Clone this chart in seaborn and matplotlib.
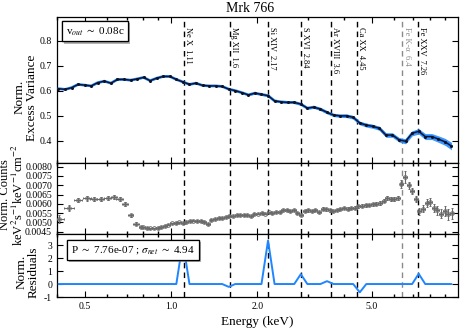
import numpy as np
import pandas as pd
import matplotlib
matplotlib.use("Agg")
import matplotlib.pyplot as plt
import matplotlib.transforms as mtransforms
from matplotlib import patheffects
from matplotlib.ticker import FixedLocator, NullFormatter, FormatStrFormatter, LogLocator
import seaborn as sns

# ---------------- data ----------------
var_energy = [0.405, 0.427, 0.450, 0.474, 0.500, 0.527, 0.555, 0.585, 0.617, 0.650,
              0.685, 0.722, 0.761, 0.802, 0.845, 0.891, 0.939, 0.990, 1.043, 1.099,
              1.159, 1.221, 1.287, 1.357, 1.430, 1.507, 1.589, 1.674, 1.765, 1.860,
              1.960, 2.066, 2.178, 2.295, 2.419, 2.550, 2.688, 2.833, 2.986, 3.147,
              3.317, 3.496, 3.685, 3.884, 4.094, 4.315, 4.548, 4.793, 5.052, 5.325,
              5.612, 5.915, 6.235, 6.571, 6.926, 7.300, 7.694, 8.110, 8.548, 9.009,
              9.496]
var_value = [0.608, 0.605, 0.612, 0.625, 0.622, 0.619, 0.632, 0.638, 0.630, 0.645,
             0.645, 0.642, 0.647, 0.653, 0.640, 0.650, 0.657, 0.657, 0.645, 0.635,
             0.625, 0.630, 0.621, 0.619, 0.619, 0.617, 0.606, 0.600, 0.592, 0.583,
             0.590, 0.585, 0.580, 0.559, 0.555, 0.553, 0.553, 0.546, 0.530, 0.534,
             0.526, 0.513, 0.502, 0.499, 0.499, 0.493, 0.470, 0.462, 0.457, 0.449,
             0.422, 0.422, 0.403, 0.397, 0.429, 0.437, 0.416, 0.416, 0.406, 0.395,
             0.378]
var_err = [0.002, 0.002, 0.002, 0.002, 0.002, 0.002, 0.002, 0.002, 0.002, 0.002,
           0.002, 0.002, 0.002, 0.002, 0.002, 0.002, 0.002, 0.002, 0.002, 0.002,
           0.002, 0.002, 0.002, 0.002, 0.002, 0.002, 0.003, 0.003, 0.003, 0.003,
           0.004, 0.004, 0.004, 0.004, 0.004, 0.004, 0.005, 0.005, 0.005, 0.005,
           0.006, 0.006, 0.006, 0.006, 0.007, 0.007, 0.007, 0.008, 0.008, 0.008,
           0.009, 0.009, 0.009, 0.010, 0.010, 0.011, 0.012, 0.012, 0.013, 0.014,
           0.015]
resid_value = [0, 0, 0, 0, 0, 0, 0, 0, 0, 0,
               0, 0, 0, 0, 0, 0, 0, 0, 0, 3.25,
               0, 0, 0, 0, 0, 0, -0.22, 0, 0, 0,
               0, 0, 3.35, 0, 0, 0, 0, 0.76, 0, 0,
               0, 0.22, 0, 0, 0, 0, -0.64, 0, 0, 0,
               0, 0, 0, 0, 0, 0.79, 0, 0, 0, 0,
               0]

spec_energy = [0.408, 0.441, 0.474, 0.508, 0.537, 0.568, 0.601, 0.632, 0.661, 0.692,
               0.723, 0.754, 0.787,
               0.800, 0.823, 0.847, 0.872, 0.898, 0.924, 0.951, 0.979, 1.007, 1.037,
               1.067, 1.098, 1.130, 1.163, 1.197, 1.232, 1.268, 1.305, 1.343, 1.382,
               1.423, 1.464, 1.507, 1.551, 1.596, 1.643, 1.691, 1.740, 1.791, 1.843,
               1.897, 1.953, 2.010, 2.068, 2.129, 2.191, 2.255, 2.321, 2.389, 2.458,
               2.530, 2.604, 2.680, 2.758, 2.839, 2.922, 3.007, 3.095, 3.185, 3.278,
               3.374, 3.473, 3.574, 3.678, 3.786, 3.896, 4.010, 4.127, 4.248, 4.372,
               4.500, 4.631, 4.766, 4.906, 5.049, 5.197, 5.348, 5.505, 5.665, 5.831,
               6.001, 6.177, 6.357, 6.543, 6.734, 6.931, 7.133, 7.342, 7.556, 7.777,
               8.004, 8.238, 8.479, 8.727, 8.982, 9.244, 9.514]
spec_value = [0.00520, 0.00578, 0.00620, 0.00630, 0.00628, 0.00625, 0.00630, 0.00636, 0.00628, 0.00598,
              0.00538, 0.00492, 0.00475,
              0.00473, 0.00470, 0.00468, 0.00468, 0.00470, 0.00475, 0.00480, 0.00488, 0.00495, 0.00497,
              0.00500, 0.00498, 0.00503, 0.00508, 0.00510, 0.00508, 0.00507, 0.00503, 0.00493, 0.00512,
              0.00518, 0.00522, 0.00524, 0.00528, 0.00535, 0.00535, 0.00538, 0.00540, 0.00542, 0.00538,
              0.00536, 0.00545, 0.00548, 0.00550, 0.00548, 0.00554, 0.00552, 0.00558, 0.00556, 0.00565,
              0.00568, 0.00562, 0.00566, 0.00550, 0.00540, 0.00560, 0.00565, 0.00562, 0.00568, 0.00555,
              0.00575, 0.00570, 0.00565, 0.00562, 0.00568, 0.00572, 0.00577, 0.00575, 0.00578, 0.00580,
              0.00586, 0.00590, 0.00592, 0.00595, 0.00598, 0.00602, 0.00605, 0.00618, 0.00632, 0.00628,
              0.00625, 0.00632, 0.00708, 0.00745, 0.00700, 0.00668, 0.00625, 0.00560, 0.00575, 0.00605,
              0.00612, 0.00580, 0.00565, 0.00548, 0.00562, 0.00545, 0.00550]
spec_err = [0.00022, 0.00018, 0.00012, 0.00012, 0.00010, 0.00010, 0.00010, 0.00010, 0.00010, 0.00010,
            0.00008, 0.00008, 0.00006,
            0.00004, 0.00004, 0.00004, 0.00004, 0.00004, 0.00004, 0.00004, 0.00004, 0.00004, 0.00004,
            0.00004, 0.00004, 0.00004, 0.00004, 0.00004, 0.00004, 0.00004, 0.00004, 0.00004, 0.00004,
            0.00005, 0.00005, 0.00005, 0.00005, 0.00005, 0.00005, 0.00005, 0.00005, 0.00005, 0.00005,
            0.00005, 0.00005, 0.00005, 0.00005, 0.00005, 0.00005, 0.00005, 0.00005, 0.00005, 0.00005,
            0.00006, 0.00006, 0.00006, 0.00006, 0.00006, 0.00006, 0.00006, 0.00006, 0.00006, 0.00006,
            0.00006, 0.00006, 0.00006, 0.00006, 0.00006, 0.00006, 0.00007, 0.00007, 0.00007, 0.00007,
            0.00007, 0.00007, 0.00007, 0.00007, 0.00008, 0.00008, 0.00009, 0.00010, 0.00010, 0.00010,
            0.00010, 0.00010, 0.00022, 0.00030, 0.00020, 0.00015, 0.00015, 0.00018, 0.00020, 0.00020,
            0.00022, 0.00022, 0.00025, 0.00025, 0.00025, 0.00030, 0.00030]
spec_xerr = [0.015, 0.019, 0.015, 0.016, 0.016, 0.017, 0.017, 0.017, 0.017, 0.016,
             0.016, 0.016, 0.014]

line_energy = [1.11, 1.6, 2.17, 2.84, 3.6, 4.45, 6.4, 7.26]
line_label = ['Ne X  1.11', 'Mg XII  1.6', 'Si XIV  2.17', 'S XVI  2.84',
              'Ar XVIII  3.6', 'Ca XX  4.45', 'Fe K-α  6.4', 'Fe XXV  7.26']
line_is_fe_k = [False, False, False, False, False, False, True, False]

var_df = pd.DataFrame({'E': var_energy, 'v': var_value, 'err': var_err, 'res': resid_value})

# dense-bin x errors: half the gap to the neighbouring bins
dense_E = np.array(spec_energy[len(spec_xerr):])
gaps = np.diff(dense_E)
dense_xerr = np.concatenate([[gaps[0]], (gaps[:-1] + gaps[1:]) / 2, [gaps[-1]]]) / 2
all_xerr = np.concatenate([spec_xerr, dense_xerr])

# ---------------- style ----------------
sns.set_theme(style="ticks")
plt.rcParams['font.family'] = ['Liberation Serif', 'DejaVu Serif']
plt.rcParams['mathtext.fontset'] = 'stix'
plt.rcParams.update({
    'xtick.direction': 'in', 'ytick.direction': 'in',
    'xtick.top': True, 'ytick.right': True,
    'xtick.labelsize': 7, 'ytick.labelsize': 7,
    'xtick.major.size': 4, 'ytick.major.size': 4,
    'xtick.minor.size': 2, 'ytick.minor.size': 2,
    'xtick.major.width': 0.8, 'ytick.major.width': 0.8,
    'axes.linewidth': 0.9, 'axes.edgecolor': 'black',
    'xtick.color': 'black', 'ytick.color': 'black',
    'text.color': 'black', 'axes.labelcolor': 'black',
})

BLUE = '#1f86ff'
GRAY = '#6a6a6a'

fig = plt.figure(figsize=(4.63, 3.28), dpi=100)
L, W = 0.123, 0.866
ax1 = fig.add_axes([L, 0.503, W, 0.445])
ax2 = fig.add_axes([L, 0.2866, W, 0.2165], sharex=ax1)
ax3 = fig.add_axes([L, 0.0945, W, 0.192], sharex=ax1)

for ax in (ax1, ax2, ax3):
    ax.set_xscale('log')

# top panel: excess variance
ax1.fill_between(var_df['E'], var_df['v'] - var_df['err'], var_df['v'] + var_df['err'],
                 color=BLUE, alpha=0.85, lw=0, zorder=2)
sns.lineplot(data=var_df, x='E', y='v', ax=ax1, color=BLUE, lw=2.0, zorder=3)
sns.lineplot(data=var_df, x='E', y='v', ax=ax1, color='#111122', lw=1.0,
             marker='o', markersize=2.2, markeredgewidth=0, zorder=4)
ax1.set_ylim(0.31, 0.895)
ax1.yaxis.set_major_locator(FixedLocator([0.4, 0.5, 0.6, 0.7, 0.8]))
ax1.yaxis.set_major_formatter(FormatStrFormatter('%.1f'))
ax1.set_ylabel('Norm.\nExcess Variance', fontsize=9.5, linespacing=1.0)
ax1.yaxis.set_label_coords(-0.047, 0.45)

# middle panel: spectrum
ax2.errorbar(spec_energy, spec_value, yerr=spec_err, xerr=all_xerr, fmt='o',
             ms=2.6, mfc='none', mec=GRAY, mew=0.7, ecolor=GRAY, elinewidth=0.8,
             capsize=1, capthick=0.6, color=GRAY, zorder=3)
ax2.set_ylim(0.00438, 0.0082)
ax2.yaxis.set_major_locator(FixedLocator([0.0045, 0.0050, 0.0055, 0.0060, 0.0065,
                                          0.0070, 0.0075, 0.0080]))
ax2.yaxis.set_major_formatter(FormatStrFormatter('%.4f'))
ax2.set_ylabel('Norm. Counts\nkeV$^2$s$^{-1}$keV$^{-1}$cm$^{-2}$', fontsize=9,
               linespacing=1.0)
ax2.yaxis.set_label_coords(-0.078, 0.55)

# bottom panel: residuals
sns.lineplot(data=var_df, x='E', y='res', ax=ax3, color=BLUE, lw=1.4, zorder=3)
ax3.set_ylim(-1, 3.85)
ax3.yaxis.set_major_locator(FixedLocator([-1, 0, 1, 2, 3]))
ax3.yaxis.set_major_formatter(FormatStrFormatter('%d'))
ax3.set_ylabel('Norm.\nResiduals', fontsize=9.5, linespacing=1.0)
ax3.yaxis.set_label_coords(-0.042, 0.4)
ax3.set_xlabel('Energy (keV)', fontsize=9.5, labelpad=4)

for ax in (ax1, ax2, ax3):
    ax.set_xlim(0.40, 10.0)
    ax.xaxis.set_major_locator(FixedLocator([0.5, 1.0, 2.0, 5.0]))
    ax.xaxis.set_minor_locator(LogLocator(base=10, subs=np.arange(2, 10), numticks=20))
    ax.xaxis.set_minor_formatter(NullFormatter())
    for E, fe in zip(line_energy, line_is_fe_k):
        ax.axvline(E, color='#8a8a8a' if fe else 'black', lw=1.0,
                   ls=(0, (4, 3)), zorder=1)
ax3.xaxis.set_major_formatter(FormatStrFormatter('%.1f'))
ax1.tick_params(labelbottom=False)
ax2.tick_params(labelbottom=False)
ax1.set_xlabel('')
ax2.set_xlabel('')

# line labels
trans = mtransforms.blended_transform_factory(ax1.transData, ax1.transAxes)
for E, lab, fe in zip(line_energy, line_label, line_is_fe_k):
    ax1.text(E * 1.003, 0.935, lab, rotation=270, ha='left', va='top', fontsize=6,
             color='#8a8a8a' if fe else 'black', transform=trans, zorder=5)

# boxes with shadows
def shadow_box(ax, x, y, s):
    t = ax.text(x, y, s, transform=ax.transAxes, ha='left', va='top', fontsize=8,
                bbox=dict(boxstyle='square,pad=0.35', fc='white', ec='black', lw=0.9),
                zorder=6)
    t.get_bbox_patch().set_path_effects([
        patheffects.withSimplePatchShadow(offset=(1.5, -1.5), shadow_rgbFace='gray', alpha=0.6),
        patheffects.Normal()])
    return t

shadow_box(ax1, 0.022, 0.945, r'v$_{out}$ $\sim$ 0.08c')
shadow_box(ax3, 0.035, 0.84, r'P $\sim$ 7.76e-07 ; $\sigma_{net}$ $\sim$ 4.94')

fig.text(0.54, 0.975, 'Mrk 766', ha='center', va='center', fontsize=10)

fig.savefig('out.png', dpi=100)
